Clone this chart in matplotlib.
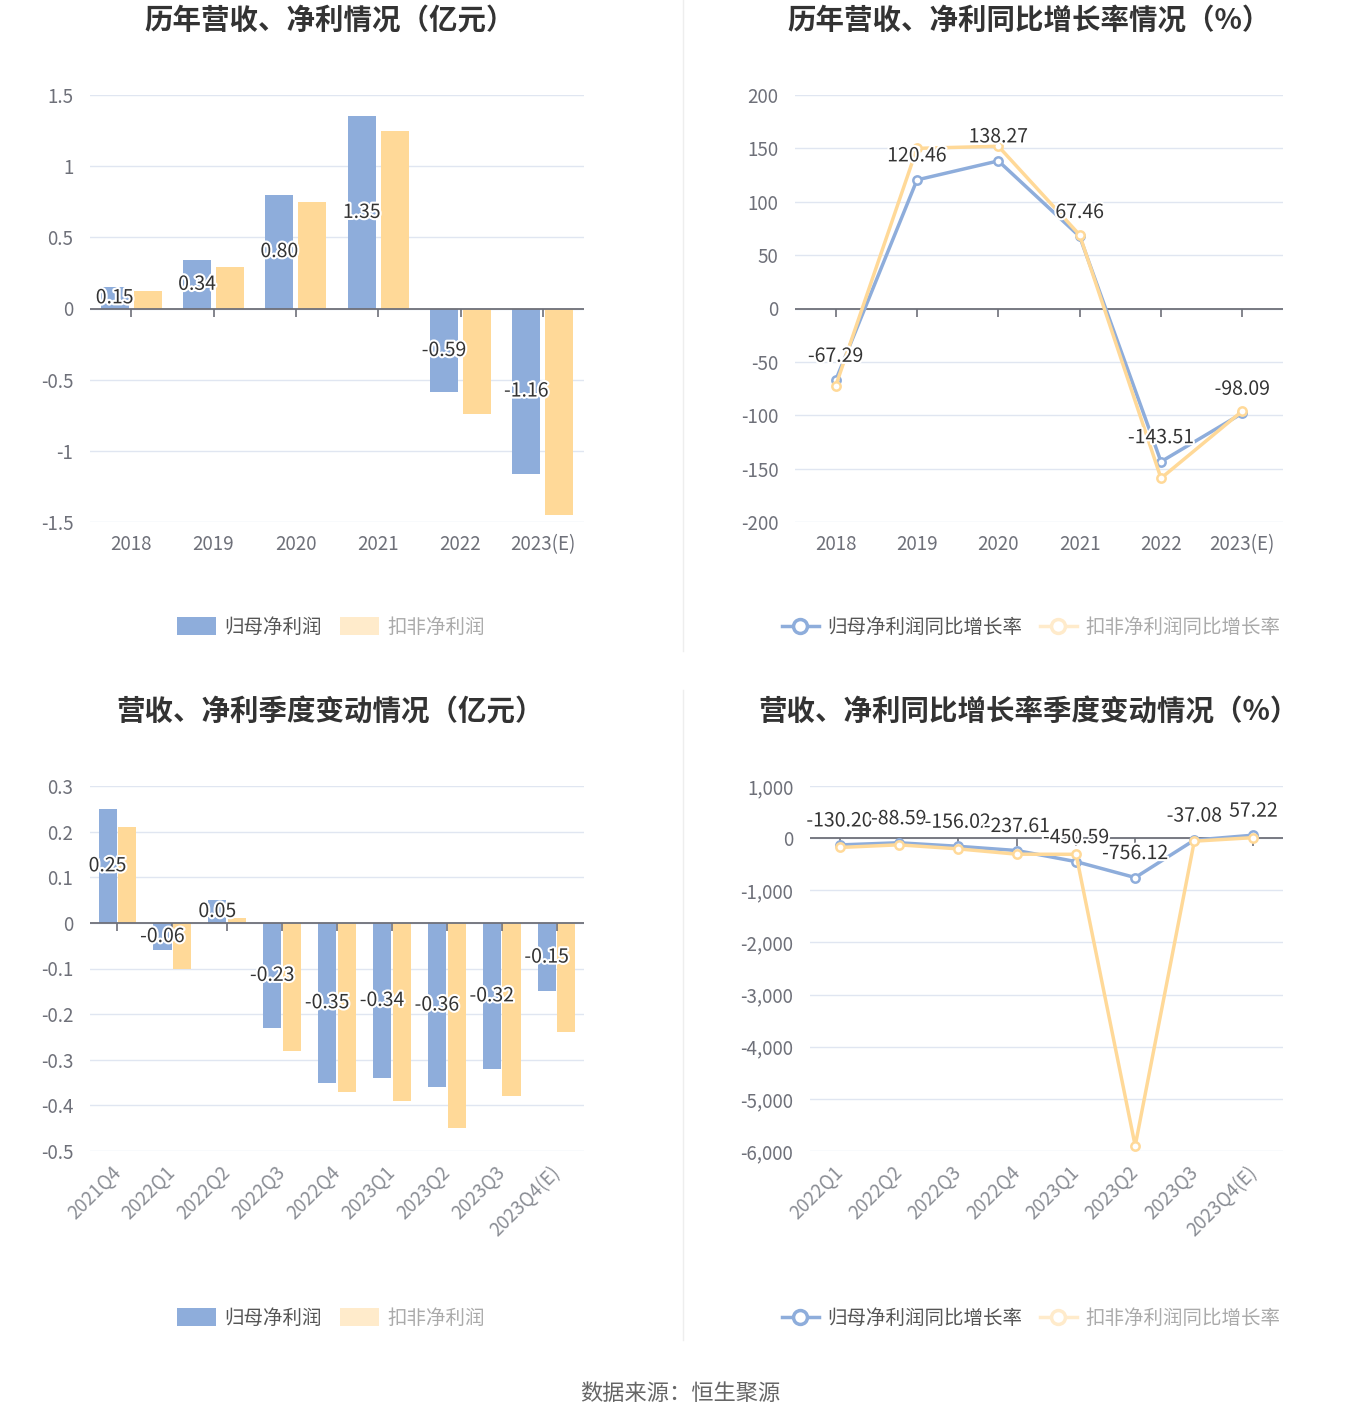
import matplotlib
matplotlib.use('Agg')
import matplotlib.pyplot as plt
import matplotlib.patheffects as pe
from matplotlib.patches import Patch
from matplotlib.lines import Line2D
import numpy as np

plt.rcParams['font.family'] = ['Noto Sans CJK SC', 'DejaVu Sans']

years = ['2018', '2019', '2020', '2021', '2022', '2023(E)']
np_year = [0.15, 0.34, 0.80, 1.35, -0.59, -1.16]
kf_year = [0.12, 0.29, 0.75, 1.25, -0.74, -1.45]

np_year_yoy = [-67.29, 120.46, 138.27, 67.46, -143.51, -98.09]
kf_year_yoy = [-72.6, 150.0, 152.0, 68.9, -159.0, -96.0]

quarters = ['2021Q4', '2022Q1', '2022Q2', '2022Q3', '2022Q4', '2023Q1', '2023Q2', '2023Q3', '2023Q4(E)']
np_q = [0.25, -0.06, 0.05, -0.23, -0.35, -0.34, -0.36, -0.32, -0.15]
kf_q = [0.21, -0.10, 0.01, -0.28, -0.37, -0.39, -0.45, -0.38, -0.24]

quarters_yoy = ['2022Q1', '2022Q2', '2022Q3', '2022Q4', '2023Q1', '2023Q2', '2023Q3', '2023Q4(E)']
np_q_yoy = [-130.20, -88.59, -156.02, -237.61, -450.59, -756.12, -37.08, 57.22]
kf_q_yoy = [-179.0, -128.0, -205.0, -308.0, -310.0, -5900.0, -58.0, 10.0]

BLUE = '#8EADDB'
ORANGE = '#FFD998'
ORANGE_FADE = '#FFEBCB'
AXIS = '#6E7079'
GRID = '#E0E6F1'
W, H = 1360, 1425

fig = plt.figure(figsize=(W / 100, H / 100), dpi=100)


def add_ax(l, t, r, b):
    return fig.add_axes([l / W, 1 - b / H, (r - l) / W, (b - t) / H])


def style(ax, labels, ylim, yticks, fmt, rotate=False):
    n = len(labels)
    ax.set_xlim(-0.5, n - 0.5)
    ax.set_ylim(*ylim)
    ax.set_yticks(yticks)
    ax.set_yticklabels([fmt(v) for v in yticks])
    for s in ax.spines.values():
        s.set_visible(False)
    ax.grid(axis='y', color=GRID, lw=1)
    ax.set_axisbelow(True)
    ax.tick_params(axis='y', length=0, pad=12, labelcolor=AXIS, labelsize=13.5)
    ax.set_xticks(np.arange(n))
    if rotate:
        ax.set_xticklabels(labels, rotation=45, ha='right', rotation_mode='anchor', va='center')
        ax.tick_params(axis='x', length=0, pad=13, labelcolor='#8A8D94', labelsize=13.5)
    else:
        ax.set_xticklabels(labels)
        ax.tick_params(axis='x', length=0, pad=9, labelcolor=AXIS, labelsize=13.5)
    ax.axhline(0, color=AXIS, lw=1.3, zorder=3)
    ax.plot(np.arange(n), np.zeros(n), ls='none', marker=3, ms=6, mew=1.2, color=AXIS, zorder=3)


stroke = [pe.withStroke(linewidth=3, foreground='white')]


def bars(ax, a, b, w, off):
    x = np.arange(len(a))
    ax.bar(x - off, a, width=w, color=BLUE, zorder=2)
    ax.bar(x + off, b, width=w, color=ORANGE, zorder=2)
    for xi, v in zip(x, a):
        ax.text(xi - off, v / 2, f'{v:.2f}', ha='center', va='center', fontsize=14,
                color='#333333', path_effects=stroke, zorder=5)


def lines(ax, a, b):
    x = np.arange(len(a))
    ax.plot(x, a, color=BLUE, lw=2.5, marker='o', ms=6, mfc='white', mec=BLUE, mew=1.8, zorder=4)
    ax.plot(x, b, color=ORANGE, lw=2.5, marker='o', ms=6, mfc='white', mec=ORANGE, mew=1.8, zorder=4)
    for xi, v in zip(x, a):
        ax.annotate(f'{v:.2f}', (xi, v), xytext=(0, 24), textcoords='offset pixels',
                    ha='center', va='center', fontsize=14, color='#333333',
                    path_effects=stroke, zorder=6)


def num(v):
    return f'{round(v, 2) + 0:g}'


ax1 = add_ax(90, 95, 584, 522)
style(ax1, years, (-1.5, 1.5), [-1.5, -1, -0.5, 0, 0.5, 1, 1.5], num)
bars(ax1, np_year, kf_year, 0.34, 0.2)

ax2 = add_ax(795, 95, 1283, 522)
style(ax2, years, (-200, 200), list(range(-200, 201, 50)), num)
lines(ax2, np_year_yoy, kf_year_yoy)

ax3 = add_ax(90, 786, 584, 1151)
style(ax3, quarters, (-0.5, 0.3), [-0.5, -0.4, -0.3, -0.2, -0.1, 0, 0.1, 0.2, 0.3], num, rotate=True)
bars(ax3, np_q, kf_q, 0.33, 0.18)

ax4 = add_ax(810, 786, 1283, 1151)
style(ax4, quarters_yoy, (-6000, 1000), list(range(-6000, 1001, 1000)),
      lambda v: f'{v:,}', rotate=True)
lines(ax4, np_q_yoy, kf_q_yoy)

title_kw = dict(ha='center', va='center', fontsize=20.5, fontweight='bold', color='#333333')
fig.text(330 / W, 1 - 21 / H, '历年营收、净利情况（亿元）', **title_kw)
fig.text(1029 / W, 1 - 21 / H, '历年营收、净利同比增长率情况（%）', **title_kw)
fig.text(330 / W, 1 - 713 / H, '营收、净利季度变动情况（亿元）', **title_kw)
fig.text(1029 / W, 1 - 713 / H, '营收、净利同比增长率季度变动情况（%）', **title_kw)


def bar_legend(cx, cy):
    h = [Patch(fc=BLUE, ec='none'), Patch(fc=ORANGE_FADE, ec='none')]
    lg = fig.legend(h, ['归母净利润', '扣非净利润'], loc='center', bbox_to_anchor=(cx / W, 1 - cy / H),
                    ncol=2, frameon=False, fontsize=14, handlelength=2.0, handleheight=1.1,
                    handletextpad=0.45, columnspacing=0.9)
    lg.get_texts()[0].set_color('#555555')
    lg.get_texts()[1].set_color('#AAAAAA')


def line_legend(cx, cy):
    h = [Line2D([], [], color=BLUE, lw=2.5, marker='o', ms=10, mfc='white', mec=BLUE, mew=2.5),
         Line2D([], [], color=ORANGE_FADE, lw=2.5, marker='o', ms=10, mfc='white', mec=ORANGE_FADE, mew=2.5)]
    lg = fig.legend(h, ['归母净利润同比增长率', '扣非净利润同比增长率'], loc='center',
                    bbox_to_anchor=(cx / W, 1 - cy / H), ncol=2, frameon=False, fontsize=14,
                    handlelength=1.9, handletextpad=0.45, columnspacing=0.9)
    lg.get_texts()[0].set_color('#555555')
    lg.get_texts()[1].set_color('#AAAAAA')


bar_legend(331, 627)
line_legend(1031, 627)
bar_legend(331, 1318)
line_legend(1031, 1318)

fig.add_artist(Line2D([683 / W, 683 / W], [1, 1 - 651 / H], color='#EEEEEE', lw=1))
fig.add_artist(Line2D([683 / W, 683 / W], [1 - 690 / H, 1 - 1340 / H], color='#EEEEEE', lw=1))

fig.text(680 / W, 1 - 1393 / H, '数据来源：恒生聚源', ha='center', va='center', fontsize=16, color='#666666')

fig.savefig('out.png', dpi=100, facecolor='white')
